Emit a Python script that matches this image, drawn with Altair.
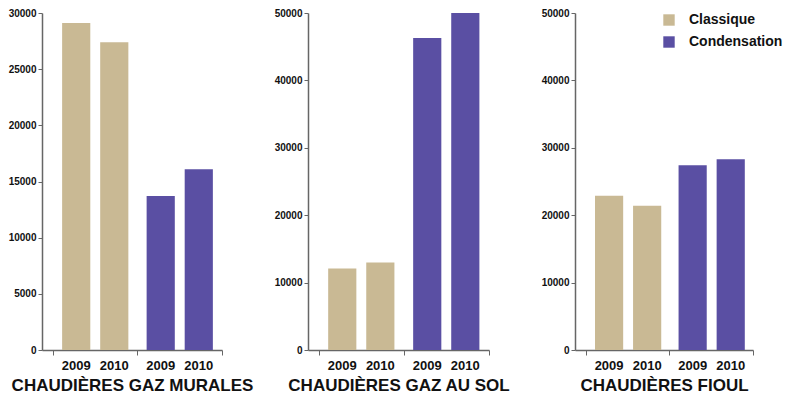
import altair as alt
import pandas as pd

types = ["Classique", "Condensation"]
years = ["2009", "2010"]
colors = ["#c9b994", "#5a4fa3"]

panel_titles = ["CHAUDIÈRES GAZ MURALES", "CHAUDIÈRES GAZ AU SOL", "CHAUDIÈRES FIOUL"]

murales_classique = [29100, 27400]
murales_condensation = [13700, 16100]
sol_classique = [12100, 13000]
sol_condensation = [46300, 50000]
fioul_classique = [22900, 21400]
fioul_condensation = [27400, 28300]

y_max = [30000, 50000, 50000]
y_step = [5000, 10000, 10000]

FONT = "Liberation Sans, Arial, sans-serif"
H = 337


def make_df(cl, co):
    rows = []
    for i, y in enumerate(years):
        rows.append({"type": "Classique", "year": y, "value": cl[i]})
    for i, y in enumerate(years):
        rows.append({"type": "Condensation", "year": y, "value": co[i]})
    return pd.DataFrame(rows)


def panel(df, title, ymax, ystep, width, legend):
    x_axis = alt.Axis(
        title=title,
        labels=False,
        grid=False,
        tickBand="extent",
        tickSize=5,
        domainColor="#666",
        tickColor="#666",
        domainWidth=1.5,
        titleFont=FONT,
        titleFontSize=17,
        titleFontWeight="bold",
        titleColor="#111",
        titlePadding=22,
    )
    x = alt.X(
        "type:N",
        sort=types,
        scale=alt.Scale(paddingInner=0, paddingOuter=0.065, align=1),
        axis=x_axis,
    )
    xo = alt.XOffset(
        "year:N", sort=years, scale=alt.Scale(paddingInner=0.26, paddingOuter=0.24)
    )
    if legend:
        leg = alt.Legend(
            title=None,
            orient="none",
            legendX=87,
            legendY=0,
            symbolType="square",
            symbolSize=130,
            symbolStrokeWidth=0,
            symbolOpacity=1,
            labelFont=FONT,
            labelFontSize=14,
            labelFontWeight="bold",
            labelColor="#111",
            labelOffset=13,
            rowPadding=8,
        )
    else:
        leg = None
    bars = alt.Chart(df).mark_bar(opacity=1).encode(
        x=x,
        xOffset=xo,
        y=alt.Y(
            "value:Q",
            scale=alt.Scale(domain=[0, ymax], nice=False),
            axis=alt.Axis(
                title=None,
                values=list(range(0, ymax + 1, ystep)),
                format="d",
                grid=False,
                tickSize=4,
                domainColor="#666",
                tickColor="#666",
                domainWidth=1.5,
                labelFont=FONT,
                labelFontSize=10,
                labelFontWeight="bold",
                labelColor="#111",
                labelPadding=2,
            ),
        ),
        color=alt.Color(
            "type:N",
            sort=types,
            scale=alt.Scale(domain=types, range=colors),
            legend=leg,
        ),
    )
    labels = alt.Chart(df).mark_text(
        font=FONT, fontSize=13, fontWeight="bold", color="#111", baseline="middle"
    ).encode(
        x=alt.X("type:N", sort=types, axis=x_axis),
        xOffset=alt.XOffset("year:N", sort=years),
        y=alt.value(H + 16),
        text="year:N",
    )
    return alt.layer(bars, labels).properties(
        width=width, height=H, view=alt.ViewBackground(stroke="transparent", strokeWidth=0)
    )


p1 = panel(make_df(murales_classique, murales_condensation), panel_titles[0], y_max[0], y_step[0], 180, False)
p2 = panel(make_df(sol_classique, sol_condensation), panel_titles[1], y_max[1], y_step[1], 181, False)
p3 = panel(make_df(fioul_classique, fioul_condensation), panel_titles[2], y_max[2], y_step[2], 178, True)

chart = (
    alt.hconcat(p1, p2, p3, spacing=86, bounds="flush")
    .resolve_legend(color="independent")
    .properties(padding={"left": 0, "top": 0, "right": 0, "bottom": 0})
    .configure_view(strokeWidth=0, stroke="transparent")
    .configure_axis(grid=False)
    .configure(background="white")
)

chart.save("out.html", embed_options={"renderer": "svg", "actions": False})
